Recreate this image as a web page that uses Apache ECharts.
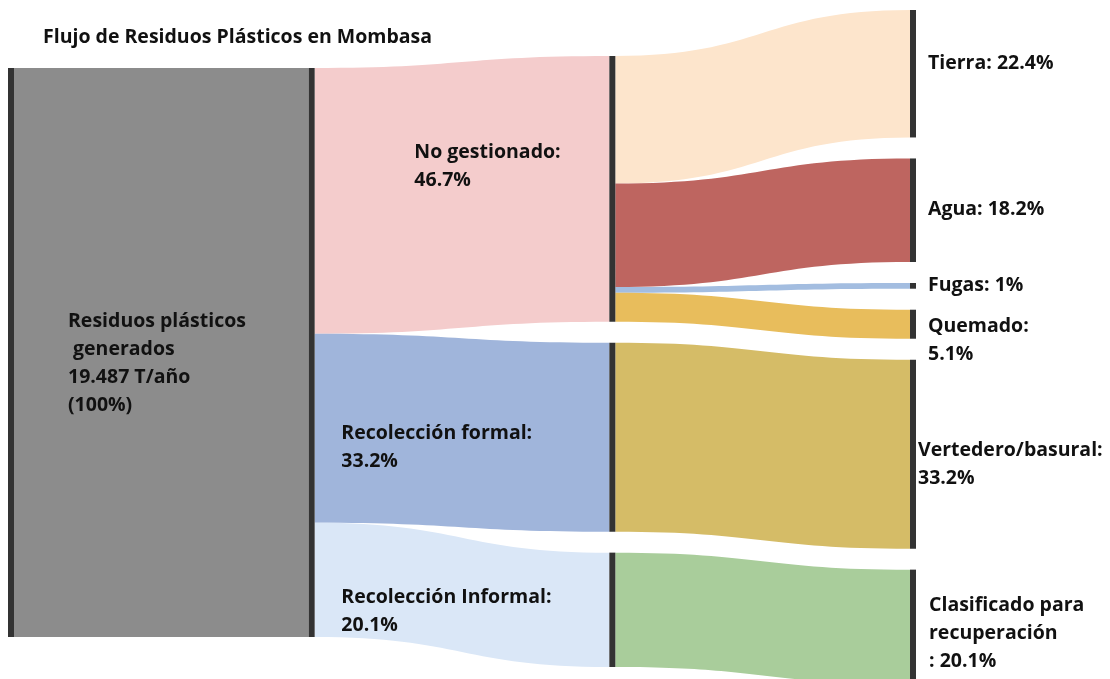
<!DOCTYPE html>
<html>
<head>
<meta charset="utf-8">
<title>Flujo de Residuos Plásticos en Mombasa</title>
<script src="https://cdn.jsdelivr.net/npm/echarts@6/dist/echarts.min.js"></script>
</head>
<body style="margin:0;padding:0;">
<div id="chart" style="width:1110px;height:679px;"></div>
<script>
// nodos (columna 0 -> 3)
var nodeNames = ['Origen', 'Residuos plásticos generados', 'No gestionado', 'Recolección formal',
  'Recolección Informal', 'Tierra', 'Agua', 'Fugas', 'Quemado', 'Vertedero/basural',
  'Clasificado para recuperación'];
var nodeLabels = ['Residuos plásticos\n generados\n19.487 T/año\n(100%)', '',
  'No gestionado:\n46.7%', 'Recolección formal:\n33.2%', 'Recolección Informal:\n20.1%',
  'Tierra: 22.4%', 'Agua: 18.2%', 'Fugas: 1%', 'Quemado:\n5.1%', 'Vertedero/basural:\n33.2%',
  'Clasificado para\nrecuperación\n: 20.1%'];
var nodeColumns = [0, 1, 2, 2, 2, 3, 3, 3, 3, 3, 3];

// flujos (% del total)
var linkSources = [0, 1, 1, 1, 2, 2, 2, 2, 3, 4];
var linkTargets = [1, 2, 3, 4, 5, 6, 7, 8, 9, 10];
var linkValues = [100, 46.7, 33.2, 20.1, 22.4, 18.2, 1, 5.1, 33.2, 20.1];

// estilos
var linkColors = ['#8c8c8c', '#f4cccc', '#a0b5db', '#dae7f7', '#fde5cc', '#be6560',
  '#a3bde0', '#e8bd5c', '#d5bc67', '#a9cd9b'];
var labelSpec = [
  { position: 'right', distance: 54, offset: [0, 11] },
  { show: false },
  { position: 'left', align: 'left', distance: 195, offset: [0, -22] },
  { position: 'left', align: 'left', distance: 268, offset: [0, 10] },
  { position: 'left', align: 'left', distance: 268, offset: [0, 2] },
  { position: 'right', distance: 12, offset: [0, -10] },
  { position: 'right', distance: 12, offset: [0, -1] },
  { position: 'right', distance: 12, offset: [0, 0] },
  { position: 'right', distance: 12, offset: [0, 16] },
  { position: 'right', distance: 2, offset: [0, 10] },
  { position: 'right', distance: 13, offset: [0, 7] }
];
var colShift = [58, 58, 46, 0];   // desplazamiento vertical de cada columna
var boxTop = 10, boxHeight = 674, gap = 21;

// valor de cada nodo a partir de los flujos
var nodeValues = nodeNames.map(function (n, i) {
  var sIn = 0, sOut = 0;
  for (var k = 0; k < linkValues.length; k++) {
    if (linkTargets[k] === i) sIn += linkValues[k];
    if (linkSources[k] === i) sOut += linkValues[k];
  }
  return Math.max(sIn, sOut);
});

// misma escala que usa el layout de echarts
var ky = Infinity;
[0, 1, 2, 3].forEach(function (c) {
  var n = 0, s = 0;
  nodeColumns.forEach(function (col, i) { if (col === c) { n++; s += nodeValues[i]; } });
  ky = Math.min(ky, (boxHeight - (n - 1) * gap) / s);
});
var acc = [0, 0, 0, 0];
var localY = nodeNames.map(function (n, i) {
  var c = nodeColumns[i];
  var y = colShift[c] + acc[c];
  acc[c] += nodeValues[i] * ky + gap;
  return y / boxHeight;
});

var labelFont = {
  fontFamily: 'Open Sans', fontWeight: 'bold', fontSize: 19.5, color: '#111', lineHeight: 28
};

var chart = echarts.init(document.getElementById('chart'));
chart.setOption({
  backgroundColor: '#fff',
  title: {
    text: 'Flujo de Residuos Plásticos en Mombasa',
    left: 38, top: 22,
    textStyle: { fontFamily: 'Open Sans', fontWeight: 'bold', fontSize: 19.5, color: '#111' }
  },
  series: [{
    type: 'sankey',
    left: 8, right: 194, top: boxTop, height: boxHeight,
    nodeWidth: 6,
    nodeGap: gap,
    layoutIterations: 0,
    draggable: false,
    emphasis: { disabled: true },
    itemStyle: { color: '#333', borderWidth: 0 },
    label: labelFont,
    data: nodeNames.map(function (name, i) {
      return {
        name: name,
        localY: localY[i],
        label: Object.assign({ formatter: nodeLabels[i] }, labelSpec[i])
      };
    }),
    links: linkValues.map(function (v, k) {
      return {
        source: nodeNames[linkSources[k]],
        target: nodeNames[linkTargets[k]],
        value: v,
        lineStyle: { color: linkColors[k], opacity: 1, curveness: 0.5 }
      };
    })
  }]
});
</script>
</body>
</html>
